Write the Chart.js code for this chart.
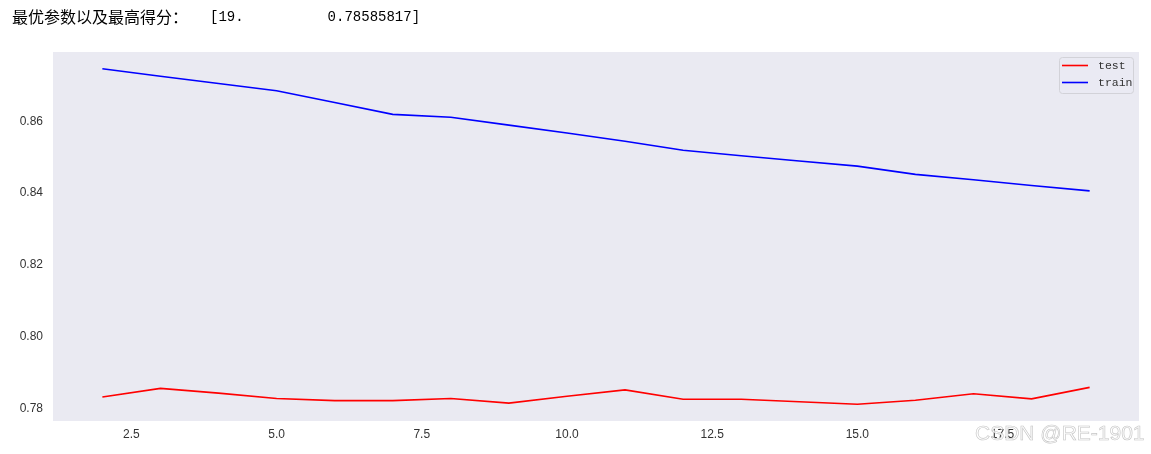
<!DOCTYPE html>
<html>
<head>
<meta charset="utf-8">
<script src="https://cdn.jsdelivr.net/npm/chart.js@4.4.0/dist/chart.umd.min.js"></script>
<style>
  html, body { margin: 0; padding: 0; background: #fff; }
  #wrap { position: relative; width: 1151px; height: 454px; overflow: hidden; }
  #myChart { position: absolute; left: 0; top: 0; }
  .out { position: absolute; top: 7px; color: #000; white-space: pre; line-height: 18px; }
  .cjk { left: 12px; font-family: "Noto Sans CJK SC", sans-serif; font-size: 16px; }
  .arr { left: 210px; font-family: "Liberation Mono", monospace; font-size: 14px; top: 8px; }
  #mark { position: absolute; left: 975px; top: 421px; font-family: "Liberation Sans", sans-serif; font-size: 21px;
          color: rgba(255, 255, 255, 0.8); -webkit-text-stroke: 0.6px #c4c4c4; white-space: pre; }
</style>
</head>
<body>
<div id="wrap">
  <canvas id="myChart" width="1151" height="454"></canvas>
  <div class="out cjk">最优参数以及最高得分：</div>
  <div class="out arr">[19.          0.78585817]</div>
  <div id="mark">CSDN @RE-1901</div>
</div>
<script>
// max_depth values tried and the scores
const paramValues = [2, 3, 4, 5, 6, 7, 8, 9, 10, 11, 12, 13, 14, 15, 16, 17, 18, 19];
const testScores = [0.7832, 0.7856, 0.7843, 0.7828, 0.7822, 0.7822, 0.7828, 0.7815, 0.7834,
                    0.7852, 0.7826, 0.7826, 0.7819, 0.7812, 0.7823, 0.7841, 0.7827, 0.7859];
const trainScores = [0.8746, 0.8725, 0.8705, 0.8685, 0.8652, 0.8619, 0.8611, 0.8589, 0.8567,
                     0.8544, 0.8519, 0.8504, 0.8489, 0.8475, 0.8452, 0.8437, 0.8421, 0.8406];
const xTicks = [2.5, 5.0, 7.5, 10.0, 12.5, 15.0, 17.5];
const yTicks = [0.78, 0.80, 0.82, 0.84, 0.86];

// matplotlib style 5% margins
function withMargin(vals) {
  const lo = Math.min(...vals), hi = Math.max(...vals);
  const m = (hi - lo) * 0.05;
  return [lo - m, hi + m];
}
const [xMin, xMax] = withMargin(paramValues);
const [yMin, yMax] = withMargin(testScores.concat(trainScores));

const tickColor = '#333333';
const tickFont = { family: 'Liberation Sans', size: 12 };

const plotBg = {
  id: 'plotBg',
  beforeDraw(chart) {
    const { ctx, chartArea: a } = chart;
    ctx.save();
    ctx.fillStyle = '#EAEAF2';
    ctx.fillRect(a.left, a.top, a.right - a.left, a.bottom - a.top);
    ctx.restore();
  }
};

// legend box in the upper right corner of the plot
const innerLegend = {
  id: 'innerLegend',
  afterDatasetsDraw(chart) {
    const { ctx, chartArea: a } = chart;
    const w = 74, h = 36;
    const x = a.right - 6 - w, y = a.top + 5;
    ctx.save();
    ctx.beginPath();
    ctx.roundRect(x + 0.5, y + 0.5, w, h, 3);
    ctx.fillStyle = 'rgba(234, 234, 242, 0.8)';
    ctx.fill();
    ctx.strokeStyle = '#d2d2d8';
    ctx.lineWidth = 1;
    ctx.stroke();
    ctx.font = '11.5px "Liberation Mono"';
    ctx.textBaseline = 'middle';
    chart.data.datasets.forEach((ds, i) => {
      const ly = y + 8.5 + i * 17;
      ctx.beginPath();
      ctx.moveTo(x + 3, ly);
      ctx.lineTo(x + 29, ly);
      ctx.strokeStyle = ds.borderColor;
      ctx.lineWidth = 1.6;
      ctx.stroke();
      ctx.fillStyle = tickColor;
      ctx.fillText(ds.label, x + 39, ly);
    });
    ctx.restore();
  }
};

const ctx = document.getElementById('myChart').getContext('2d');
const myChart = new Chart(ctx, {
  type: 'line',
  data: {
    datasets: [{
      label: 'test',
      data: paramValues.map((p, i) => ({ x: p, y: testScores[i] })),
      borderColor: '#ff0000',
      borderWidth: 1.6,
      pointRadius: 0,
      tension: 0,
      fill: false
    }, {
      label: 'train',
      data: paramValues.map((p, i) => ({ x: p, y: trainScores[i] })),
      borderColor: '#0000ff',
      borderWidth: 1.6,
      pointRadius: 0,
      tension: 0,
      fill: false
    }]
  },
  options: {
    responsive: false,
    animation: false,
    layout: { padding: { top: 52, right: 12, left: 0, bottom: 0 } },
    plugins: {
      legend: { display: false },
      tooltip: { enabled: false }
    },
    scales: {
      x: {
        type: 'linear',
        min: xMin,
        max: xMax,
        grid: { display: false, drawTicks: false },
        border: { display: false },
        afterBuildTicks: s => { s.ticks = xTicks.map(v => ({ value: v })); },
        afterFit: s => { s.height = 33; },
        ticks: {
          color: tickColor,
          font: tickFont,
          padding: 6,
          maxRotation: 0,
          autoSkip: false,
          callback: v => Number(v).toFixed(1)
        }
      },
      y: {
        min: yMin,
        max: yMax,
        grid: { display: false, drawTicks: false },
        border: { display: false },
        afterBuildTicks: s => { s.ticks = yTicks.map(v => ({ value: v })); },
        afterFit: s => { s.width = 53; },
        ticks: {
          color: tickColor,
          font: tickFont,
          padding: 10,
          callback: v => Number(v).toFixed(2)
        }
      }
    }
  },
  plugins: [plotBg, innerLegend]
});
</script>
</body>
</html>
